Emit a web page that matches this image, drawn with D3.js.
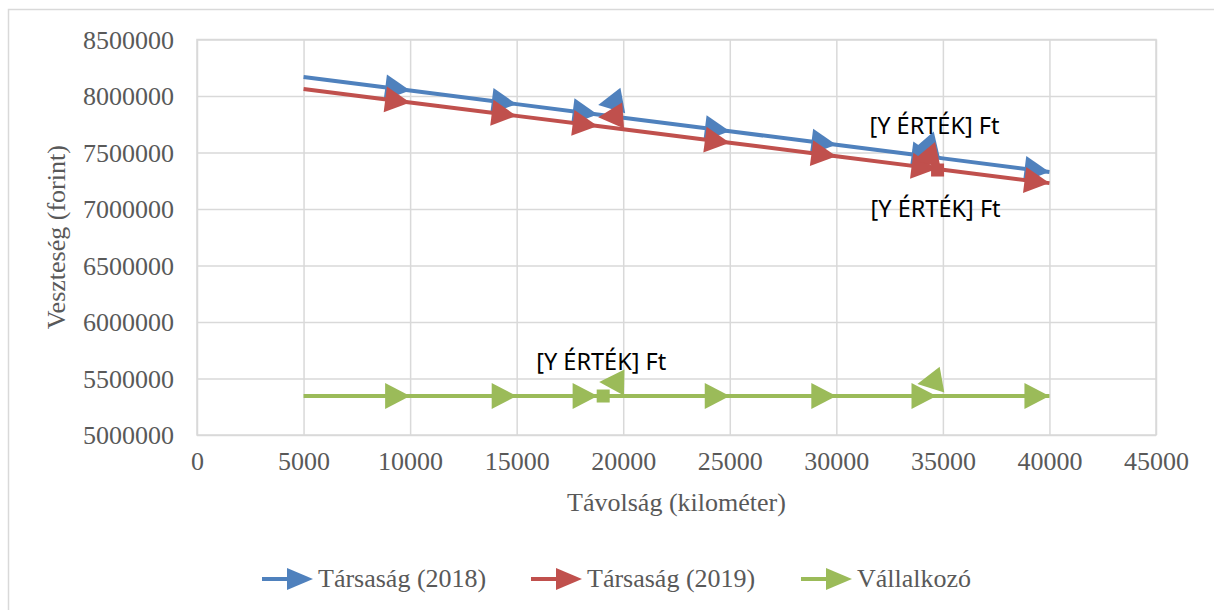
<!DOCTYPE html>
<html>
<head>
<meta charset="utf-8">
<script src="https://cdn.jsdelivr.net/npm/d3@7"></script>
<style>
  body { margin: 0; background: #fff; }
  text { font-family: "Liberation Serif", "Times New Roman", serif; fill: #595959; }
</style>
</head>
<body>
<svg id="chart" width="1214" height="610"></svg>
<script>
// distances (km) along each line, incl. the break-even points
const distanceKm = [5000, 10000, 15000, 18800, 20000, 25000, 30000, 34700, 35000, 40000];
const loss2018 = [8168000, 8048000, 7928000, 7837000, 7808000, 7688000, 7568000, 7455000, 7448000, 7328000];
const loss2019 = [8062000, 7943000, 7824000, 7734000, 7705000, 7586000, 7467000, 7355000, 7348000, 7229000];
const lossContractor = [5345000, 5345000, 5345000, 5345000, 5345000, 5345000, 5345000, 5345000, 5345000, 5345000];
// which points get an arrowhead
const arrowAt = [false, true, true, true, false, true, true, true, false, true];

// the odd backwards arrowheads: [tipKm, tipLoss, tailKm, tailLoss]
const back2018 = [[18826, 7920000, 19859, 7956000], [33568, 7522000, 34554, 7566000]];
const back2019 = [[18826, 7812000, 19859, 7826000], [33615, 7434000, 34695, 7478000]];
const backContractor = [[18873, 5469000, 19953, 5465000], [33803, 5451000, 34859, 5487000]];

// labelled points
const labelKm = [34700, 34750, 19060];
const labelLoss = [7455000, 7345000, 5345000];
const labelOffset = [-32, 39, -34];
const labelSquare = [false, true, true];
const labelText = "[Y ÉRTÉK] Ft";

const seriesNames = ["Társaság (2018)", "Társaság (2019)", "Vállalkozó"];
const colors = ["#4F81BD", "#C0504D", "#9BBB59"];

const xTicks = [0, 5000, 10000, 15000, 20000, 25000, 30000, 35000, 40000, 45000];
const yTicks = [5000000, 5500000, 6000000, 6500000, 7000000, 7500000, 8000000, 8500000];

const width = 1214, height = 610;
const margin = { top: 39.5, left: 197, right: 58, bottom: 175 };
const iwidth = width - margin.left - margin.right;
const iheight = height - margin.top - margin.bottom;

const svg = d3.select("#chart");

// outer chart border
svg.append("rect")
  .attr("x", 8.5).attr("y", 9.5)
  .attr("width", width).attr("height", height)
  .attr("fill", "none").attr("stroke", "#D9D9D9").attr("stroke-width", 1.5);

const x = d3.scaleLinear().domain([0, 45000]).range([0, iwidth]);
const y = d3.scaleLinear().domain([5000000, 8500000]).range([iheight, 0]);

const g = svg.append("g").attr("transform", `translate(${margin.left},${margin.top})`);

// grid + axes
const xAxis = g.append("g")
  .attr("transform", `translate(0,${iheight})`)
  .call(d3.axisBottom(x).tickValues(xTicks).tickFormat(d3.format("d")).tickSize(-iheight).tickPadding(26));
const yAxis = g.append("g")
  .call(d3.axisLeft(y).tickValues(yTicks).tickFormat(d3.format("d")).tickSize(-iwidth).tickPadding(23));

[xAxis, yAxis].forEach(a => {
  a.select(".domain").remove();
  a.selectAll("line").attr("stroke", "#D9D9D9").attr("stroke-width", 1.5);
  a.selectAll("text").attr("font-size", 26).attr("fill", "#595959")
    .attr("font-family", "Liberation Serif");
});
xAxis.selectAll("text").attr("dy", null).attr("y", 35);
yAxis.selectAll("text").attr("dy", "0.33em");

g.append("rect")
  .attr("width", iwidth).attr("height", iheight)
  .attr("fill", "none").attr("stroke", "#D9D9D9").attr("stroke-width", 1.5);

function arrow(tx, ty, fx, fy, L = 25, W = 13) {
  const dx = tx - fx, dy = ty - fy, len = Math.hypot(dx, dy) || 1;
  const ux = dx / len, uy = dy / len;
  const bx = tx - ux * L, by = ty - uy * L;
  const px = -uy, py = ux;
  return `M${tx},${ty}L${bx + px * W},${by + py * W}L${bx - px * W},${by - py * W}Z`;
}

const series = [
  { values: loss2018, back: back2018 },
  { values: loss2019, back: back2019 },
  { values: lossContractor, back: backContractor }
];

const line = d3.line().x(d => x(d[0])).y(d => y(d[1]));

series.forEach((s, i) => {
  const pts = distanceKm.map((k, j) => [k, s.values[j]]);
  const sg = g.append("g");
  sg.append("path").attr("d", line(pts))
    .attr("fill", "none").attr("stroke", colors[i]).attr("stroke-width", 4);
  sg.selectAll("path.head").data(pts.filter((p, j) => arrowAt[j]).map(p => [p, pts[pts.indexOf(p) - 1]]))
    .enter().append("path").attr("class", "head")
    .attr("d", d => arrow(x(d[0][0]), y(d[0][1]), x(d[1][0]), y(d[1][1])))
    .attr("fill", colors[i]);
  sg.selectAll("path.back").data(s.back)
    .enter().append("path").attr("class", "back")
    .attr("d", d => arrow(x(d[0]), y(d[1]), x(d[2]), y(d[3])))
    .attr("fill", colors[i]);
  if (labelSquare[i]) {
    sg.append("rect")
      .attr("x", x(labelKm[i]) - 6.5).attr("y", y(labelLoss[i]) - 6.5)
      .attr("width", 13).attr("height", 13).attr("fill", colors[i]);
  }
});

// data labels
g.selectAll("text.lbl").data(labelKm)
  .enter().append("text").attr("class", "lbl")
  .attr("x", (d, i) => x(d) - 2)
  .attr("y", (d, i) => y(labelLoss[i]) + labelOffset[i])
  .attr("dy", "0.35em")
  .attr("text-anchor", "middle")
  .style("font-family", "'Noto Sans', 'Open Sans', sans-serif")
  .style("font-size", "23.5px")
  .style("fill", "#000")
  .text(labelText);

// axis titles
svg.append("text")
  .attr("x", margin.left + iwidth / 2).attr("y", 511)
  .attr("text-anchor", "middle").attr("font-size", 26)
  .text("Távolság (kilométer)");
svg.append("text")
  .attr("transform", `translate(65,${margin.top + iheight / 2}) rotate(-90)`)
  .attr("text-anchor", "middle").attr("font-size", 26)
  .text("Veszteség (forint)");

// legend
const legendX = [262, 531, 801];
const lg = svg.append("g");
seriesNames.forEach((name, i) => {
  const lx = legendX[i], ly = 579;
  lg.append("line").attr("x1", lx).attr("x2", lx + 40).attr("y1", ly).attr("y2", ly)
    .attr("stroke", colors[i]).attr("stroke-width", 4);
  lg.append("path").attr("d", arrow(lx + 51, ly, lx, ly, 26, 11)).attr("fill", colors[i]);
  lg.append("text").attr("x", lx + 56).attr("y", ly + 8).attr("font-size", 26).text(name);
});
</script>
</body>
</html>
